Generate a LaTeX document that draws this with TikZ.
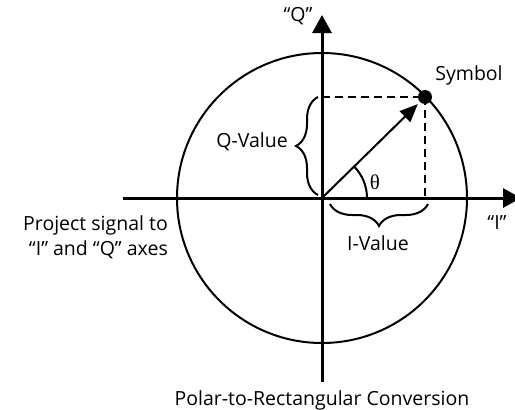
\documentclass[tikz,border=0pt]{standalone}
\usepackage{fontspec}
\setmainfont{Open Sans}
\newfontfamily\thetafont{Liberation Serif}
\usetikzlibrary{arrows.meta,decorations.pathreplacing,calc}
\begin{document}
\begin{tikzpicture}[x=1pt,y=-1pt,
  axis/.style={line width=3pt,-{Triangle[length=18pt,width=19pt]}},
  lbl/.style={font=\fontsize{19.5}{25}\selectfont, inner sep=0pt},
  dashline/.style={line width=2.5pt,dash pattern=on 8pt off 5pt},
  bracestyle/.style={line width=2pt,decorate,decoration={brace,amplitude=22pt}}]
\useasboundingbox (0,0) rectangle (515,410);
\coordinate (O) at (322,198);
\coordinate (L) at (123,198);
\coordinate (R) at (521,198);
\coordinate (B) at (322,382);
\coordinate (T) at (322,15);
\coordinate (S) at (425,97);
\coordinate (Qy) at (322,97);
\coordinate (Ix) at (425,198);
% circle
\draw[line width=2pt] (O) circle[radius=145];
% axes
\draw[axis] (L) -- (R);
\draw[axis] (B) -- (T);
% dashed projections
\draw[dashline] (Qy) -- (S);
\draw[dashline] (S) -- (Ix);
% vector
\draw[line width=2pt,-{Triangle[length=18pt,width=15pt]}] (O) -- ($(O)!0.93!(S)$);
\fill (S) circle[radius=7];
% angle arc
\draw[line width=2pt] ($(O)+(45,0)$) arc[start angle=0,end angle=-45,radius=45];
\node[inner sep=0pt,font=\thetafont\fontsize{21}{24}\selectfont] (th) at (375,182) {θ};
% braces
\draw[bracestyle] (318,195) -- (318,97);
\draw[bracestyle] (428,204) -- (330,204);
% labels
\node[lbl] (qlab) at (298,16) {“Q”};
\node[lbl] (sym) at (469,75) {Symbol};
\node[lbl] (ilab) at (497,223) {“I”};
\node[lbl,anchor=east] (qv) at (288,142) {Q-Value};
\node[lbl] (iv) at (378,243) {I-Value};
\node[lbl,align=right,anchor=east] (proj) at (168,237) {Project signal to\\“I” and “Q” axes};
\node[lbl] (title) at (322,400) {Polar-to-Rectangular Conversion};
\end{tikzpicture}
\end{document}
